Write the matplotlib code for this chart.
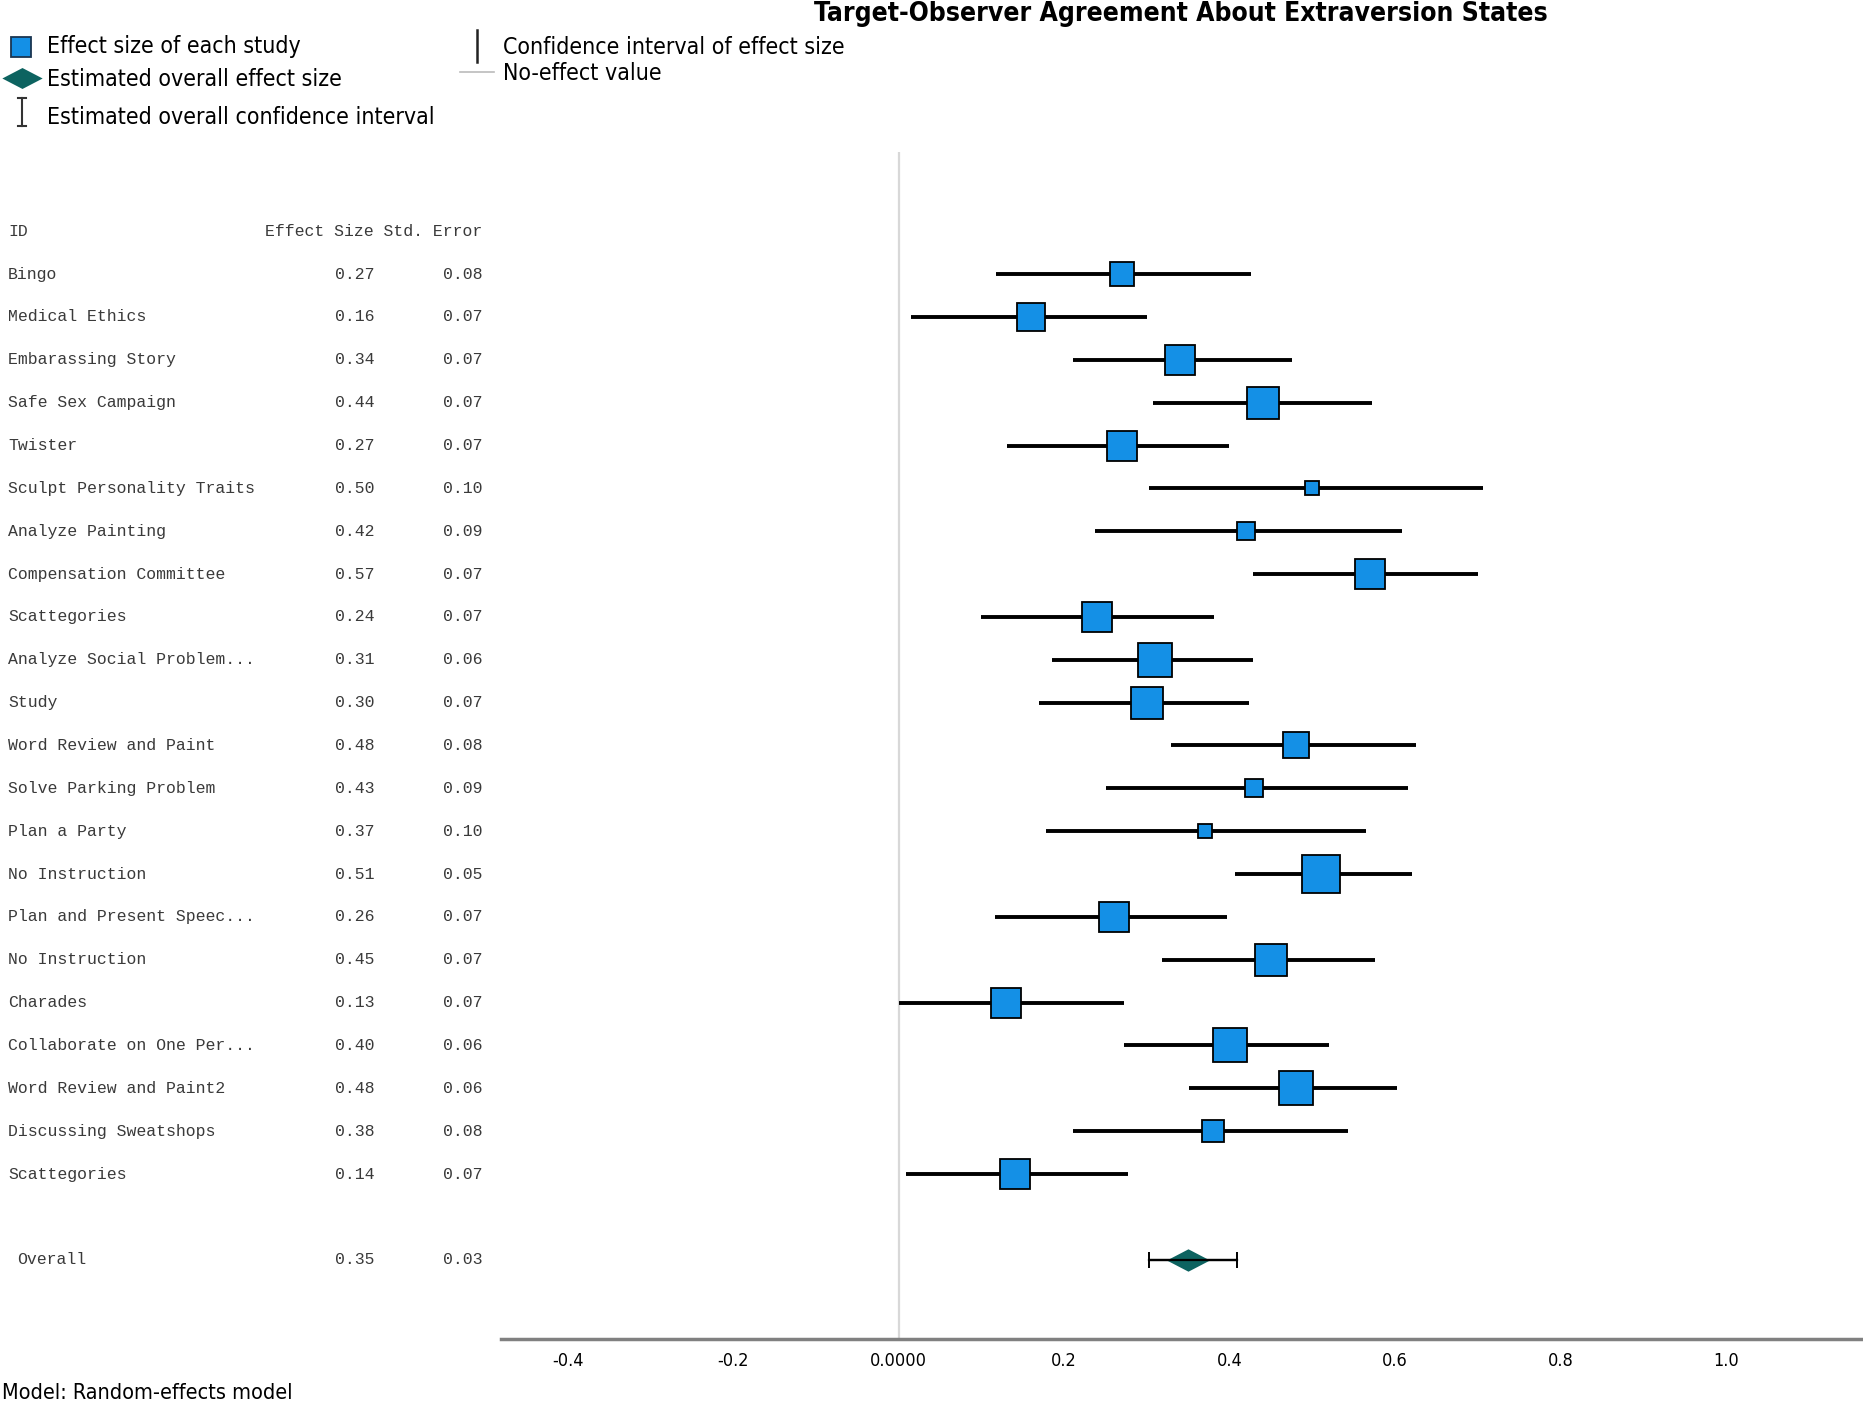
import matplotlib
matplotlib.use('Agg')
import matplotlib.pyplot as plt
from matplotlib.transforms import blended_transform_factory

studies = ['Bingo', 'Medical Ethics', 'Embarassing Story', 'Safe Sex Campaign', 'Twister',
           'Sculpt Personality Traits', 'Analyze Painting', 'Compensation Committee',
           'Scattegories', 'Analyze Social Problem...', 'Study', 'Word Review and Paint',
           'Solve Parking Problem', 'Plan a Party', 'No Instruction', 'Plan and Present Speec...',
           'No Instruction', 'Charades', 'Collaborate on One Per...', 'Word Review and Paint2',
           'Discussing Sweatshops', 'Scattegories']
effect = [0.27, 0.16, 0.34, 0.44, 0.27, 0.50, 0.42, 0.57, 0.24, 0.31, 0.30,
          0.48, 0.43, 0.37, 0.51, 0.26, 0.45, 0.13, 0.40, 0.48, 0.38, 0.14]
std_err = [0.08, 0.07, 0.07, 0.07, 0.07, 0.10, 0.09, 0.07, 0.07, 0.06, 0.07,
           0.08, 0.09, 0.10, 0.05, 0.07, 0.07, 0.07, 0.06, 0.06, 0.08, 0.07]
ci_low = [0.117, 0.015, 0.211, 0.307, 0.131, 0.302, 0.237, 0.428, 0.099, 0.185, 0.170,
          0.329, 0.250, 0.178, 0.407, 0.116, 0.318, 0.000, 0.272, 0.351, 0.211, 0.009]
ci_high = [0.426, 0.300, 0.476, 0.572, 0.399, 0.707, 0.608, 0.701, 0.381, 0.428, 0.424,
           0.626, 0.616, 0.565, 0.621, 0.397, 0.576, 0.272, 0.520, 0.603, 0.543, 0.277]
# relative weight (%)
weights = [3.4, 4.3, 5.3, 5.6, 5.3, 1.1, 1.7, 5.0, 4.8, 6.4, 5.8,
           4.0, 1.8, 1.2, 8.0, 5.0, 5.6, 5.0, 6.4, 6.2, 2.8, 5.3]

overall_es = 0.35
overall_se = 0.03
overall_low = 0.302
overall_high = 0.409

x_ticks = [-0.4, -0.2, 0.0, 0.2, 0.4, 0.6, 0.8, 1.0]
x_ticklabels = ['-0.4', '-0.2', '0.0000', '0.2', '0.4', '0.6', '0.8', '1.0']

W, H = 1863, 1404
fig = plt.figure(figsize=(W / 100, H / 100), dpi=100)

narrow = dict(family='DejaVu Sans', stretch='condensed')
mono = ['Liberation Mono', 'DejaVu Sans Mono']

# overlay in pixel coords for legend/text
ov = fig.add_axes([0, 0, 1, 1])
ov.set_xlim(0, W)
ov.set_ylim(H, 0)
ov.axis('off')

ax = fig.add_axes([501 / W, 1 - 1339 / H, 1 - 501 / W, (1339 - 152) / H])
ax.patch.set_alpha(0)
ax.set_xlim(-0.481, 1.166)
ax.set_ylim(24.85, -2.85)

blue = '#1490e6'
teal = '#0d6360'

ax.axvline(0, color='#d8d8d8', lw=1.6, zorder=1)

rows = list(range(len(studies)))
for i in rows:
    ax.plot([ci_low[i], ci_high[i]], [i, i], color='black', lw=2.8, solid_capstyle='butt', zorder=2)
    side = (weights[i] * 181.3) ** 0.5 * 0.72
    ax.plot(effect[i], i, marker='s', ms=side, mfc=blue, mec='black', mew=1.3, zorder=3)

y_all = len(studies) + 1
ax.errorbar(overall_es, y_all, xerr=[[overall_es - overall_low], [overall_high - overall_es]],
            fmt='none', ecolor='black', elinewidth=1.6, capsize=6, capthick=1.4, zorder=2)
diamond = [(-1, 0), (0, 0.52), (1, 0), (0, -0.52), (-1, 0)]
ax.plot(overall_es, y_all, marker=diamond, ms=31, mfc=teal, mec=teal, mew=0, zorder=3)
ax.plot([overall_low, overall_high], [y_all, y_all], color='black', lw=1.6, zorder=4)

for s in ['top', 'right', 'left']:
    ax.spines[s].set_visible(False)
ax.spines['bottom'].set_color('#808080')
ax.spines['bottom'].set_linewidth(2.5)
ax.set_yticks([])
ax.set_xticks(x_ticks)
ax.set_xticklabels(x_ticklabels, fontsize=13, **narrow)
ax.tick_params(axis='x', length=0, pad=9)

# table on the left
tr = blended_transform_factory(ov.transData, ax.transData)
tcol = '#3a3a3a'
ax.text(8, -1, 'ID', transform=tr, family=mono, fontsize=11.9, color=tcol, va='center', ha='left')
ax.text(482, -1, 'Effect Size Std. Error', transform=tr, family=mono, fontsize=11.9,
        color=tcol, va='center', ha='right')
for i in rows:
    ax.text(8, i, studies[i], transform=tr, family=mono, fontsize=11.9, color=tcol, va='center')
    ax.text(374, i, '%.2f' % effect[i], transform=tr, family=mono, fontsize=11.9, color=tcol,
            va='center', ha='right')
    ax.text(482, i, '%.2f' % std_err[i], transform=tr, family=mono, fontsize=11.9, color=tcol,
            va='center', ha='right')
ax.text(17, y_all, 'Overall', transform=tr, family=mono, fontsize=11.9, color=tcol, va='center')
ax.text(374, y_all, '%.2f' % overall_es, transform=tr, family=mono, fontsize=11.9, color=tcol,
        va='center', ha='right')
ax.text(482, y_all, '%.2f' % overall_se, transform=tr, family=mono, fontsize=11.9, color=tcol,
        va='center', ha='right')

# title
ov.text(1181, 14, 'Target-Observer Agreement About Extraversion States',
        fontsize=19, fontweight='bold', ha='center', va='center', **narrow)

# legend
ov.plot(21, 47, marker='s', ms=15, mfc=blue, mec='#1a3550', mew=1.3)
ov.text(47, 47, 'Effect size of each study', fontsize=16.6, va='center', **narrow)
ov.plot(22, 78, marker=diamond, ms=29, mfc=teal, mec=teal, mew=0)
ov.text(47, 80, 'Estimated overall effect size', fontsize=16.6, va='center', **narrow)
ov.plot([22, 22], [98, 126], color='#333333', lw=1.5)
ov.plot([18, 26], [98, 98], color='#333333', lw=1.5)
ov.plot([18, 26], [126, 126], color='#333333', lw=1.5)
ov.text(47, 117, 'Estimated overall confidence interval', fontsize=16.6, va='center', **narrow)
ov.plot([477, 477], [30, 62], color='#222222', lw=1.8)
ov.text(503, 47, 'Confidence interval of effect size', fontsize=16.6, va='center', **narrow)
ov.plot([460, 494], [72, 72], color='#bbbbbb', lw=1.2)
ov.text(503, 73, 'No-effect value', fontsize=16.6, va='center', **narrow)

ov.text(2, 1393, 'Model: Random-effects model', fontsize=15.5, va='center', **narrow)

plt.savefig('out.png', dpi=100)
